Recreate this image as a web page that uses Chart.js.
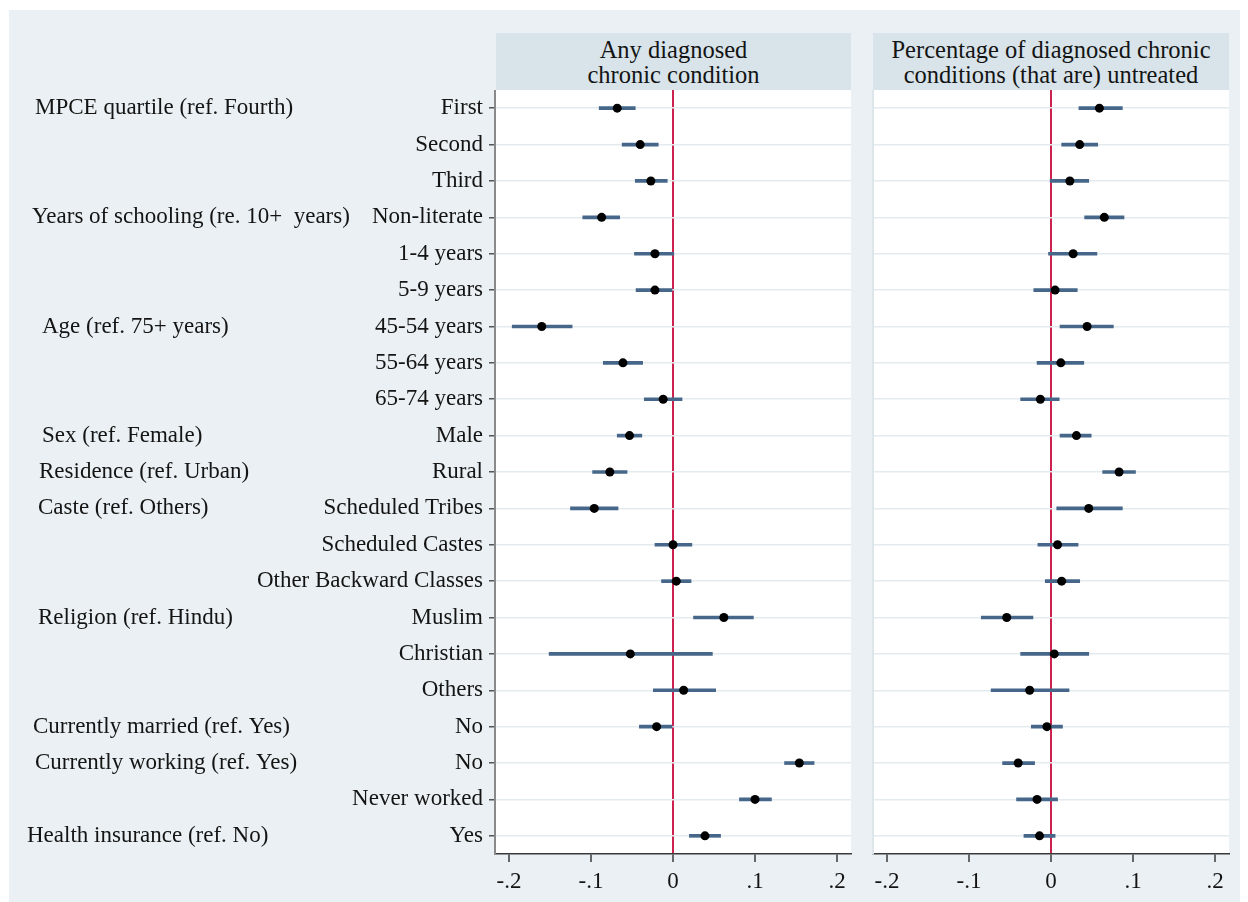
<!DOCTYPE html>
<html>
<head>
<meta charset="utf-8">
<script src="https://cdn.jsdelivr.net/npm/chart.js@4/dist/chart.umd.min.js"></script>
<style>
  html, body { margin: 0; padding: 0; background: #ffffff; }
  body { width: 1248px; height: 902px; position: relative; overflow: hidden; }
  #frame { position: absolute; left: 9px; top: 10px; width: 1231px; height: 892px; background: #eaf0f3; }
  .strip { position: absolute; top: 33px; height: 57px; background: #d8e4ea;
           display: flex; align-items: center; justify-content: center; text-align: center;
           font-family: "Liberation Serif", "DejaVu Serif", serif; font-size: 24.5px; line-height: 25px; color: #141414; }
  #stripA { left: 496px; width: 355px; }
  #stripB { left: 873px; width: 356px; }
  .holder { position: absolute; top: 90px; height: 812px; }
  #holderA { left: 0px; width: 870px; }
  #holderB { left: 863px; width: 385px; }
</style>
</head>
<body>
<div id="frame"></div>
<div class="strip" id="stripA">Any diagnosed<br>chronic condition</div>
<div class="strip" id="stripB">Percentage of diagnosed chronic<br>conditions (that are) untreated</div>
<div class="holder" id="holderA"><canvas id="chartA"></canvas></div>
<div class="holder" id="holderB"><canvas id="chartB"></canvas></div>
<script>
// Row labels, top to bottom
const categories = [
  "First", "Second", "Third",
  "Non-literate", "1-4 years", "5-9 years",
  "45-54 years", "55-64 years", "65-74 years",
  "Male", "Rural",
  "Scheduled Tribes", "Scheduled Castes", "Other Backward Classes",
  "Muslim", "Christian", "Others",
  "No", "No", "Never worked", "Yes"
];

// Variable group headings and the row each one sits on
const groupLabels = [
  "MPCE quartile (ref. Fourth)",
  "Years of schooling (re. 10+  years)",
  "Age (ref. 75+ years)",
  "Sex (ref. Female)",
  "Residence (ref. Urban)",
  "Caste (ref. Others)",
  "Religion (ref. Hindu)",
  "Currently married (ref. Yes)",
  "Currently working (ref. Yes)",
  "Health insurance (ref. No)"
];
const groupRows = [0, 3, 6, 9, 10, 11, 14, 17, 18, 20];

// Any diagnosed chronic condition: estimate and 95% CI
const anyEst = [-0.068, -0.040, -0.027, -0.087, -0.022, -0.022, -0.160, -0.061, -0.012, -0.053, -0.077,
                -0.096, 0.000, 0.004, 0.062, -0.052, 0.013, -0.020, 0.154, 0.100, 0.039];
const anyLo  = [-0.090, -0.062, -0.046, -0.110, -0.047, -0.045, -0.196, -0.085, -0.035, -0.068, -0.098,
                -0.125, -0.022, -0.014, 0.025, -0.151, -0.024, -0.041, 0.136, 0.081, 0.020];
const anyHi  = [-0.046, -0.018, -0.007, -0.065, 0.001, 0.000, -0.123, -0.037, 0.011, -0.038, -0.056,
                -0.067, 0.023, 0.022, 0.098, 0.048, 0.052, 0.000, 0.172, 0.120, 0.058];

// Share of diagnosed chronic conditions untreated: estimate and 95% CI
const untEst = [0.059, 0.035, 0.023, 0.065, 0.027, 0.005, 0.044, 0.012, -0.013, 0.031, 0.083,
                0.046, 0.008, 0.013, -0.054, 0.004, -0.026, -0.005, -0.040, -0.017, -0.014];
const untLo  = [0.034, 0.013, -0.001, 0.041, -0.003, -0.021, 0.011, -0.017, -0.037, 0.011, 0.063,
                0.007, -0.016, -0.007, -0.085, -0.037, -0.073, -0.024, -0.059, -0.042, -0.033];
const untHi  = [0.087, 0.057, 0.046, 0.089, 0.056, 0.032, 0.076, 0.040, 0.010, 0.049, 0.103,
                0.087, 0.033, 0.035, -0.022, 0.046, 0.022, 0.014, -0.020, 0.008, 0.005];

// x-axis ticks
const tickValues = [-0.2, -0.1, 0, 0.1, 0.2];
const tickLabels = ["-.2", "-.1", "0", ".1", ".2"];

const SERIF = "'Liberation Serif', 'DejaVu Serif', serif";
const INK = "#141414";
const groupIndent = [35, 32, 42, 42, 39, 38, 38, 33, 35, 27];

const plotBackground = {
  id: "plotBackground",
  beforeDraw(chart) {
    const { ctx, chartArea: a } = chart;
    ctx.save();
    ctx.fillStyle = "#ffffff";
    ctx.fillRect(a.left, a.top, a.right - a.left, a.bottom - a.top);
    ctx.restore();
  }
};

const groupHeadings = {
  id: "groupHeadings",
  afterDraw(chart) {
    const { ctx } = chart;
    const yScale = chart.scales.y;
    ctx.save();
    ctx.font = "23px " + SERIF;
    ctx.fillStyle = INK;
    ctx.textAlign = "left";
    ctx.textBaseline = "middle";
    groupLabels.forEach((txt, i) => {
      ctx.fillText(txt, groupIndent[i], yScale.getPixelForValue(groupRows[i]));
    });
    ctx.restore();
  }
};

function makeChart(canvasId, est, lo, hi, withLabels) {
  const plugins = [plotBackground];
  if (withLabels) plugins.push(groupHeadings);
  return new Chart(document.getElementById(canvasId), {
    type: "bar",
    data: {
      labels: categories,
      datasets: [
        {
          type: "line",
          indexAxis: "y",
          data: est,
          showLine: false,
          pointRadius: 4.5,
          pointHoverRadius: 4.5,
          pointBackgroundColor: "#000000",
          pointBorderColor: "#000000",
          pointBorderWidth: 0,
          order: 0
        },
        {
          type: "bar",
          indexAxis: "y",
          data: lo.map((v, i) => [v, hi[i]]),
          backgroundColor: "#46678a",
          borderWidth: 0,
          barThickness: 3,
          order: 1
        }
      ]
    },
    options: {
      indexAxis: "y",
      responsive: true,
      maintainAspectRatio: false,
      animation: false,
      events: [],
      layout: { padding: { left: 0, right: 19, top: 0, bottom: 0 }, autoPadding: false },
      plugins: { legend: { display: false }, tooltip: { enabled: false }, title: { display: false } },
      scales: {
        x: {
          type: "linear",
          min: -0.217,
          max: 0.217,
          afterBuildTicks(scale) { scale.ticks = tickValues.map(v => ({ value: v })); },
          afterFit(scale) { scale.height = 48; scale.paddingLeft = 0; scale.paddingRight = 0; },
          ticks: {
            font: { family: SERIF, size: 23 },
            color: INK,
            padding: 6,
            maxRotation: 0,
            autoSkip: false,
            callback: (v, i) => tickLabels[i]
          },
          grid: {
            color: c => (c.tick && Math.abs(c.tick.value) < 1e-9) ? "#cc2250" : "rgba(0,0,0,0)",
            lineWidth: 2,
            drawTicks: true,
            tickLength: 8,
            tickColor: "#3a3a3a",
            tickWidth: 1.5
          },
          border: { display: true, color: "#3a3a3a", width: 1.5 }
        },
        y: {
          type: "category",
          offset: true,
          afterFit(scale) {
            scale.width = withLabels ? 495 : 10;
            scale.paddingTop = 0;
            scale.paddingBottom = 0;
          },
          ticks: {
            display: withLabels,
            font: { family: SERIF, size: 23 },
            color: INK,
            padding: 6,
            autoSkip: false
          },
          grid: {
            offset: false,
            color: "#e4ebef",
            lineWidth: 1.5,
            drawTicks: withLabels,
            tickLength: 6,
            tickColor: "#555555",
            tickWidth: 1.5
          },
          border: { display: true, color: withLabels ? "#8a8a8a" : "#dde6eb", width: 2 }
        }
      }
    },
    plugins
  });
}

makeChart("chartA", anyEst, anyLo, anyHi, true);
makeChart("chartB", untEst, untLo, untHi, false);
</script>
</body>
</html>
